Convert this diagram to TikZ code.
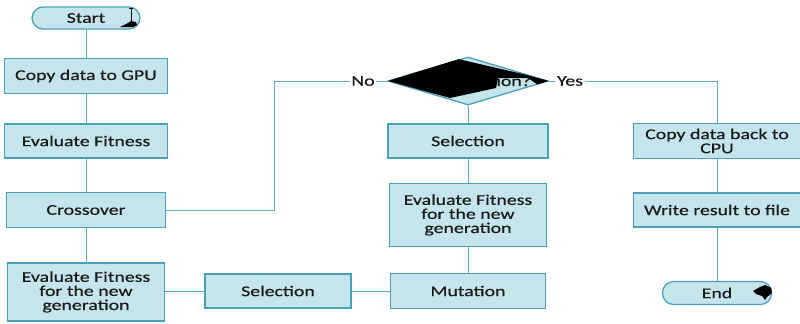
\documentclass[tikz,border=0pt]{standalone}
\usepackage{fontspec}
\setmainfont{Carlito}[FakeStretch=1.33,FakeBold=0.5]
\usetikzlibrary{shapes.geometric}
\definecolor{boxline}{HTML}{4AA0B8}
\definecolor{boxlight}{HTML}{C4E5EC}
\definecolor{boxmid}{HTML}{9CD0DD}
\definecolor{edgeblue}{HTML}{5AAFC6}
\definecolor{txt}{HTML}{1A1A1A}
\begin{document}
\begin{tikzpicture}[x=0.025cm,y=-0.025cm]
    \tikzset{box/.style = {shape=rectangle,draw=boxline,line width=0.9pt,left color=boxlight,middle color=boxmid,right color=boxlight,text=txt,font=\fontsize{10.6}{10}\selectfont,align=center,inner sep=0pt}, term/.style = {box,rounded corners=0.28cm}, edge/.style = {draw=edgeblue,line width=0.7pt}, lab/.style = {fill=white,text=txt,font=\fontsize{10.6}{10}\selectfont,inner sep=1pt}}
    \useasboundingbox (0,0) rectangle (800,323);
     \node[term,minimum width=2.7cm,minimum height=0.55cm] (S) at (86,18) {Start};
     \node[box,minimum width=4.075cm,minimum height=0.875cm] (A) at (86,76) {Copy data to GPU};
     \node[box,minimum width=4.075cm,minimum height=0.85cm] (B) at (86,141) {Evaluate Fitness};
     \node[box,minimum width=3.975cm,minimum height=0.875cm] (C) at (86,210) {Crossover};
     \node[box,minimum width=3.925cm,minimum height=1.45cm] (D) at (86,292) {Evaluate Fitness\\for the new\\generation};
     \node[box,minimum width=3.65cm,minimum height=0.85cm] (E) at (278,291) {Selection};
     \node[box,minimum width=3.875cm,minimum height=0.875cm] (F) at (468,291) {Mutation};
     \node[box,minimum width=3.925cm,minimum height=1.575cm] (G) at (468,215) {Evaluate Fitness\\for the new\\generation};
     \node[box,minimum width=4cm,minimum height=0.85cm] (H) at (468,141) {Selection};
     \node[box,shape=diamond,minimum width=4cm,minimum height=1.2cm] (Q) at (468,81) {};
     \node[text=txt,font=\fontsize{10.6}{10}\selectfont,inner sep=0pt] (Qt) at (468,82) {Stop condition?};
     \node[box,minimum width=4.175cm,minimum height=0.875cm] (I) at (717,141) {Copy data back to\\CPU};
     \node[box,minimum width=4.175cm,minimum height=0.85cm] (J) at (717,210) {Write result to file};
     \node[term,minimum width=2.725cm,minimum height=0.575cm] (K) at (717,293) {End};

     \begin{scope}
      \clip (Q.west) -- (Q.north) -- (Q.east) -- (Q.south) -- cycle;
      \fill[black] (388,81) -- (458,59) -- (527,75) -- (549,81) -- (538,85) -- (528,78) -- (498,78) -- (496,88) -- (450,98) -- cycle;
     \end{scope}
     \fill[black] (120,27) -- (128,23) -- (131,21) -- (136,22) -- (137,25) -- (133,27) -- cycle;
     \draw[black,line width=0.5pt] (131,21) -- (131,8) (129,8) -- (133,8);
     \fill[black] (753,291) -- (760,287) -- (765,285) -- (771,288) -- (772,293) -- (767,297) -- (765,300) -- (762,296) -- (756,294) -- cycle;

     \node[lab] (No) at (363,81) {No};
     \node[lab] (Yes) at (570,81) {Yes};
     \coordinate (N) at (274,81);

     \draw[edge](S) --(A);
    \draw[edge](A) --(B);
    \draw[edge](B) --(C);
    \draw[edge](C) --(D);
    \draw[edge](E.west -| D.east) --(E.west);
    \draw[edge](E) --(F);
    \draw[edge](F) --(G);
    \draw[edge](G) --(H);
    \draw[edge](H) --(Q);
    \draw[edge](Q.west) --(No) --(N) |- (C.east);
    \draw[edge](Q.east) --(Yes) -| (I.north);
    \draw[edge](I) --(J);
    \draw[edge](J) --(K);
\end{tikzpicture}
\end{document}
